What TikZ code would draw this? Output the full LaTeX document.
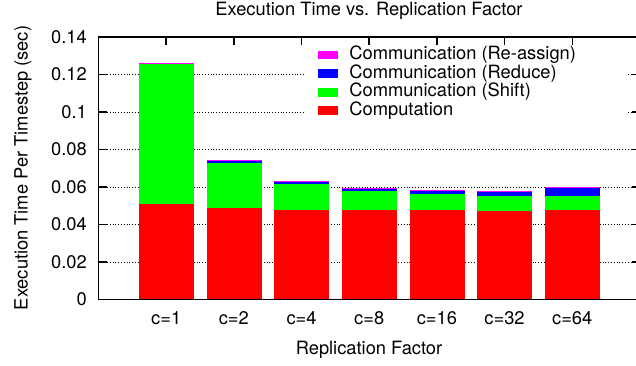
\documentclass[tikz,border=0pt]{standalone}
\usepackage{fontspec}
\setmainfont{TeX Gyre Heros}
\usetikzlibrary{positioning}
\definecolor{reassigncol}{RGB}{255,0,255}
\definecolor{reducecol}{RGB}{0,0,255}
\definecolor{shiftcol}{RGB}{0,255,0}
\definecolor{compcol}{RGB}{255,0,0}
\tikzstyle{ylab}=[anchor=east,inner sep=0pt,xshift=-11.5pt]
\tikzstyle{xlab}=[anchor=base,inner sep=0pt]
\tikzstyle{gridline}=[dotted,line width=0.8pt]
\tikzstyle{border}=[line width=1.4pt]
\tikzstyle{keybox}=[rectangle,minimum width=20pt,minimum height=8.7pt,inner sep=0pt]
\tikzstyle{keytext}=[anchor=west,inner sep=0pt,text height=13pt,text depth=3.5pt]

\begin{document}
\begin{tikzpicture}[font=\fontsize{18.3}{22}\selectfont]
\useasboundingbox (0,0) rectangle (636pt,366pt);
\node(title)[xlab] at (369pt,350.5pt){Execution Time vs. Replication Factor};
\node(ytitle)[xlab,rotate=90] at (27.5pt,198pt){Execution Time Per Timestep (sec)};
\node(xtitle)[xlab] at (369pt,11pt){Replication Factor};
\begin{scope}[shift={(98.5pt,66.5pt)},x=67.67pt,y=1875pt]
\draw[gridline](0,0.02)--(8,0.02);
\draw[gridline](0,0.04)--(8,0.04);
\draw[gridline](0,0.06)--(8,0.06);
\draw[gridline](0,0.08)--(8,0.08);
\draw[gridline](0,0.10)--(8,0.10);
\draw[gridline](0,0.12)--(8,0.12);
\fill[white](3.04,0.0936)rectangle(7.82,0.1352);
\foreach \v in {0.02,0.04,0.06,0.08,0.10,0.12}{
\draw[border](0,\v)--++(8pt,0);
\draw[border](8,\v)--++(-8pt,0);
}
\foreach \c in {1,...,7}{
\draw[border](\c,0.14)--++(0,-8pt);
\draw[border](\c,0)--++(0,8pt);
}
\fill[compcol](0.6,0)rectangle(1.41,0.0508);
\fill[shiftcol](0.6,0.0508)rectangle(1.41,0.1255);
\fill[reassigncol](0.6,0.1255)rectangle(1.41,0.1260);
\fill[compcol](1.6,0)rectangle(2.41,0.0486);
\fill[shiftcol](1.6,0.0486)rectangle(2.41,0.0727);
\fill[reducecol](1.6,0.0727)rectangle(2.41,0.0737);
\fill[reassigncol](1.6,0.0737)rectangle(2.41,0.0742);
\fill[compcol](2.6,0)rectangle(3.41,0.0475);
\fill[shiftcol](2.6,0.0475)rectangle(3.41,0.0614);
\fill[reducecol](2.6,0.0614)rectangle(3.41,0.0625);
\fill[reassigncol](2.6,0.0625)rectangle(3.41,0.0630);
\fill[compcol](3.6,0)rectangle(4.41,0.0475);
\fill[shiftcol](3.6,0.0475)rectangle(4.41,0.0577);
\fill[reducecol](3.6,0.0577)rectangle(4.41,0.0587);
\fill[reassigncol](3.6,0.0587)rectangle(4.41,0.0593);
\fill[compcol](4.6,0)rectangle(5.41,0.0475);
\fill[shiftcol](4.6,0.0475)rectangle(5.41,0.0561);
\fill[reducecol](4.6,0.0561)rectangle(5.41,0.0577);
\fill[reassigncol](4.6,0.0577)rectangle(5.41,0.0582);
\fill[compcol](5.6,0)rectangle(6.41,0.0470);
\fill[shiftcol](5.6,0.0470)rectangle(6.41,0.0550);
\fill[reducecol](5.6,0.0550)rectangle(6.41,0.0571);
\fill[reassigncol](5.6,0.0571)rectangle(6.41,0.0577);
\fill[compcol](6.6,0)rectangle(7.41,0.0475);
\fill[shiftcol](6.6,0.0475)rectangle(7.41,0.0550);
\fill[reducecol](6.6,0.0550)rectangle(7.41,0.0593);
\fill[reassigncol](6.6,0.0593)rectangle(7.41,0.0598);
\draw[border](0,0)rectangle(8,0.14);
\node(y0)[ylab] at (0,0){0};
\node(y1)[ylab] at (0,0.02){0.02};
\node(y2)[ylab] at (0,0.04){0.04};
\node(y3)[ylab] at (0,0.06){0.06};
\node(y4)[ylab] at (0,0.08){0.08};
\node(y5)[ylab] at (0,0.10){0.1};
\node(y6)[ylab] at (0,0.12){0.12};
\node(y7)[ylab] at (0,0.14){0.14};
\node(c1)[xlab,yshift=-25.5pt] at (1,0){c=1};
\node(c2)[xlab,yshift=-25.5pt] at (2,0){c=2};
\node(c4)[xlab,yshift=-25.5pt] at (3,0){c=4};
\node(c8)[xlab,yshift=-25.5pt] at (4,0){c=8};
\node(c16)[xlab,yshift=-25.5pt] at (5,0){c=16};
\node(c32)[xlab,yshift=-25.5pt] at (6,0){c=32};
\node(c64)[xlab,yshift=-25.5pt] at (7,0){c=64};
\end{scope}
\node(kre)[keybox,fill=reassigncol] at (328pt,311pt){};
\node(kred)[keybox,fill=reducecol,below=9.5pt of kre]{};
\node(ksh)[keybox,fill=shiftcol,below=9.5pt of kred]{};
\node(kco)[keybox,fill=compcol,below=9.5pt of ksh]{};
\node(tre)[keytext,right=11pt of kre]{Communication (Re-assign)};
\node(tred)[keytext,right=11pt of kred]{Communication (Reduce)};
\node(tsh)[keytext,right=11pt of ksh]{Communication (Shift)};
\node(tco)[keytext,right=11pt of kco]{Computation};
\end{tikzpicture}
\end{document}
